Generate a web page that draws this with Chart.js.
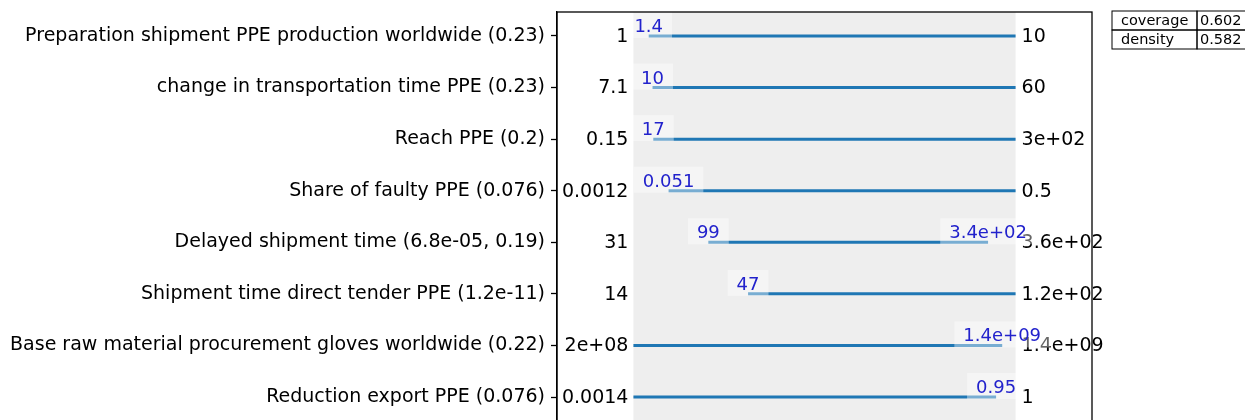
<!DOCTYPE html>
<html>
<head>
<meta charset="utf-8">
<script src="https://cdn.jsdelivr.net/npm/chart.js@4"></script>
<style>
  html, body { margin: 0; padding: 0; background: #fff; overflow: hidden; }
  #box { display: block; }
</style>
</head>
<body>
<canvas id="box" width="1245" height="430"></canvas>
<script>
// rows of the box, top to bottom
const rowLabels = [
  'Preparation shipment PPE production worldwide (0.23)',
  'change in transportation time PPE (0.23)',
  'Reach PPE (0.2)',
  'Share of faulty PPE (0.076)',
  'Delayed shipment time (6.8e-05, 0.19)',
  'Shipment time direct tender PPE (1.2e-11)',
  'Base raw material procurement gloves worldwide (0.22)',
  'Reduction export PPE (0.076)',
];
// range of each uncertainty (left / right texts)
const minLabels = ['1', '7.1', '0.15', '0.0012', '31', '14', '2e+08', '0.0014'];
const maxLabels = ['10', '60', '3e+02', '0.5', '3.6e+02', '1.2e+02', '1.4e+09', '1'];
// box limits, normalised to 0..1 of the range
const boxLow = [0.04, 0.05, 0.052, 0.092, 0.196, 0.3, 0, 0];
const boxHigh = [1, 1, 1, 1, 0.928, 1, 0.965, 0.949];
// blue texts at the restricted limits ('' = not restricted)
const lowTexts = ['1.4', '10', '17', '0.051', '99', '47', '', ''];
const highTexts = ['', '', '', '', '3.4e+02', '', '1.4e+09', '0.95'];
// stats table
const statNames = ['coverage', 'density'];
const statValues = ['0.602', '0.582'];

const FONT = 'DejaVu Sans';
Chart.defaults.font.family = FONT;
Chart.defaults.color = '#000';

const boxPlugin = {
  id: 'boxPlugin',
  beforeDatasetsDraw(chart) {
    const { ctx, chartArea: a, scales: { x } } = chart;
    ctx.save();
    ctx.fillStyle = '#eeeeee';
    ctx.fillRect(x.getPixelForValue(0), a.top, x.getPixelForValue(1) - x.getPixelForValue(0), a.bottom - a.top);
    ctx.restore();
  },
  afterDatasetsDraw(chart) {
    const { ctx, chartArea: a, scales: { x, y } } = chart;
    const x0 = x.getPixelForValue(0);
    const x1 = x.getPixelForValue(1);
    ctx.save();

    // min / max of each range
    ctx.font = '19px "' + FONT + '"';
    ctx.fillStyle = '#000';
    ctx.textBaseline = 'middle';
    rowLabels.forEach((_, i) => {
      const py = y.getPixelForValue(i);
      ctx.textAlign = 'right';
      ctx.fillText(minLabels[i], x0 - 5, py + 1);
      ctx.textAlign = 'left';
      ctx.fillText(maxLabels[i], x1 + 6, py + 1);
    });

    // box limits in blue, with a faint white box behind
    ctx.font = '18px "' + FONT + '"';
    ctx.textAlign = 'center';
    ctx.textBaseline = 'alphabetic';
    const blueText = (txt, v, i) => {
      if (!txt) return;
      const px = x.getPixelForValue(v);
      const py = y.getPixelForValue(i) - 4;
      const w = ctx.measureText(txt).width;
      ctx.fillStyle = 'rgba(255,255,255,0.4)';
      ctx.fillRect(px - w / 2 - 9, py - 20, w + 18, 26);
      ctx.fillStyle = '#2222cc';
      ctx.fillText(txt, px, py);
    };
    rowLabels.forEach((_, i) => {
      blueText(lowTexts[i], boxLow[i], i);
      blueText(highTexts[i], boxHigh[i], i);
    });

    // frame
    ctx.strokeStyle = '#000';
    ctx.lineWidth = 1.3;
    ctx.strokeRect(a.left, a.top, a.right - a.left, a.bottom - a.top);

    // stats table
    const tx = 1112, ty = 11, rh = 19, cw = [85, 60];
    ctx.lineWidth = 1;
    ctx.font = '14.5px "' + FONT + '"';
    ctx.textAlign = 'left';
    ctx.textBaseline = 'middle';
    statNames.forEach((name, r) => {
      const ry = ty + r * rh;
      ctx.strokeRect(tx, ry, cw[0], rh);
      ctx.strokeRect(tx + cw[0], ry, cw[1], rh);
      ctx.fillStyle = '#000';
      ctx.fillText(name, tx + 9, ry + rh / 2 + 1);
      ctx.fillText(statValues[r], tx + cw[0] + 3, ry + rh / 2 + 1);
    });
    ctx.restore();
  },
};

new Chart(document.getElementById('box'), {
  type: 'line',
  data: {
    datasets: rowLabels.map((_, i) => ({
      data: [{ x: boxLow[i], y: i }, { x: boxHigh[i], y: i }],
      borderColor: '#1f77b4',
      borderWidth: 3,
      pointRadius: 0,
    })),
  },
  options: {
    responsive: false,
    animation: false,
    devicePixelRatio: 1,
    layout: { padding: { top: 12, right: 153, bottom: 9, left: 0 } },
    plugins: { legend: { display: false }, tooltip: { enabled: false } },
    scales: {
      x: { type: 'linear', min: -0.2, max: 1.2, display: false },
      y: {
        type: 'linear',
        min: -0.465,
        max: 7.465,
        reverse: true,
        afterBuildTicks: (s) => { s.ticks = rowLabels.map((_, i) => ({ value: i })); },
        afterFit: (s) => { s.width = 557; s.paddingTop = 0; s.paddingBottom = 0; },
        ticks: {
          autoSkip: false,
          padding: 6,
          color: '#000',
          font: { size: 19 },
          callback: (v) => rowLabels[v],
        },
        grid: { drawOnChartArea: false, tickLength: 6, color: '#000', tickWidth: 1.3 },
        border: { display: true, color: '#000', width: 1.3 },
      },
    },
  },
  plugins: [boxPlugin],
});
</script>
</body>
</html>
